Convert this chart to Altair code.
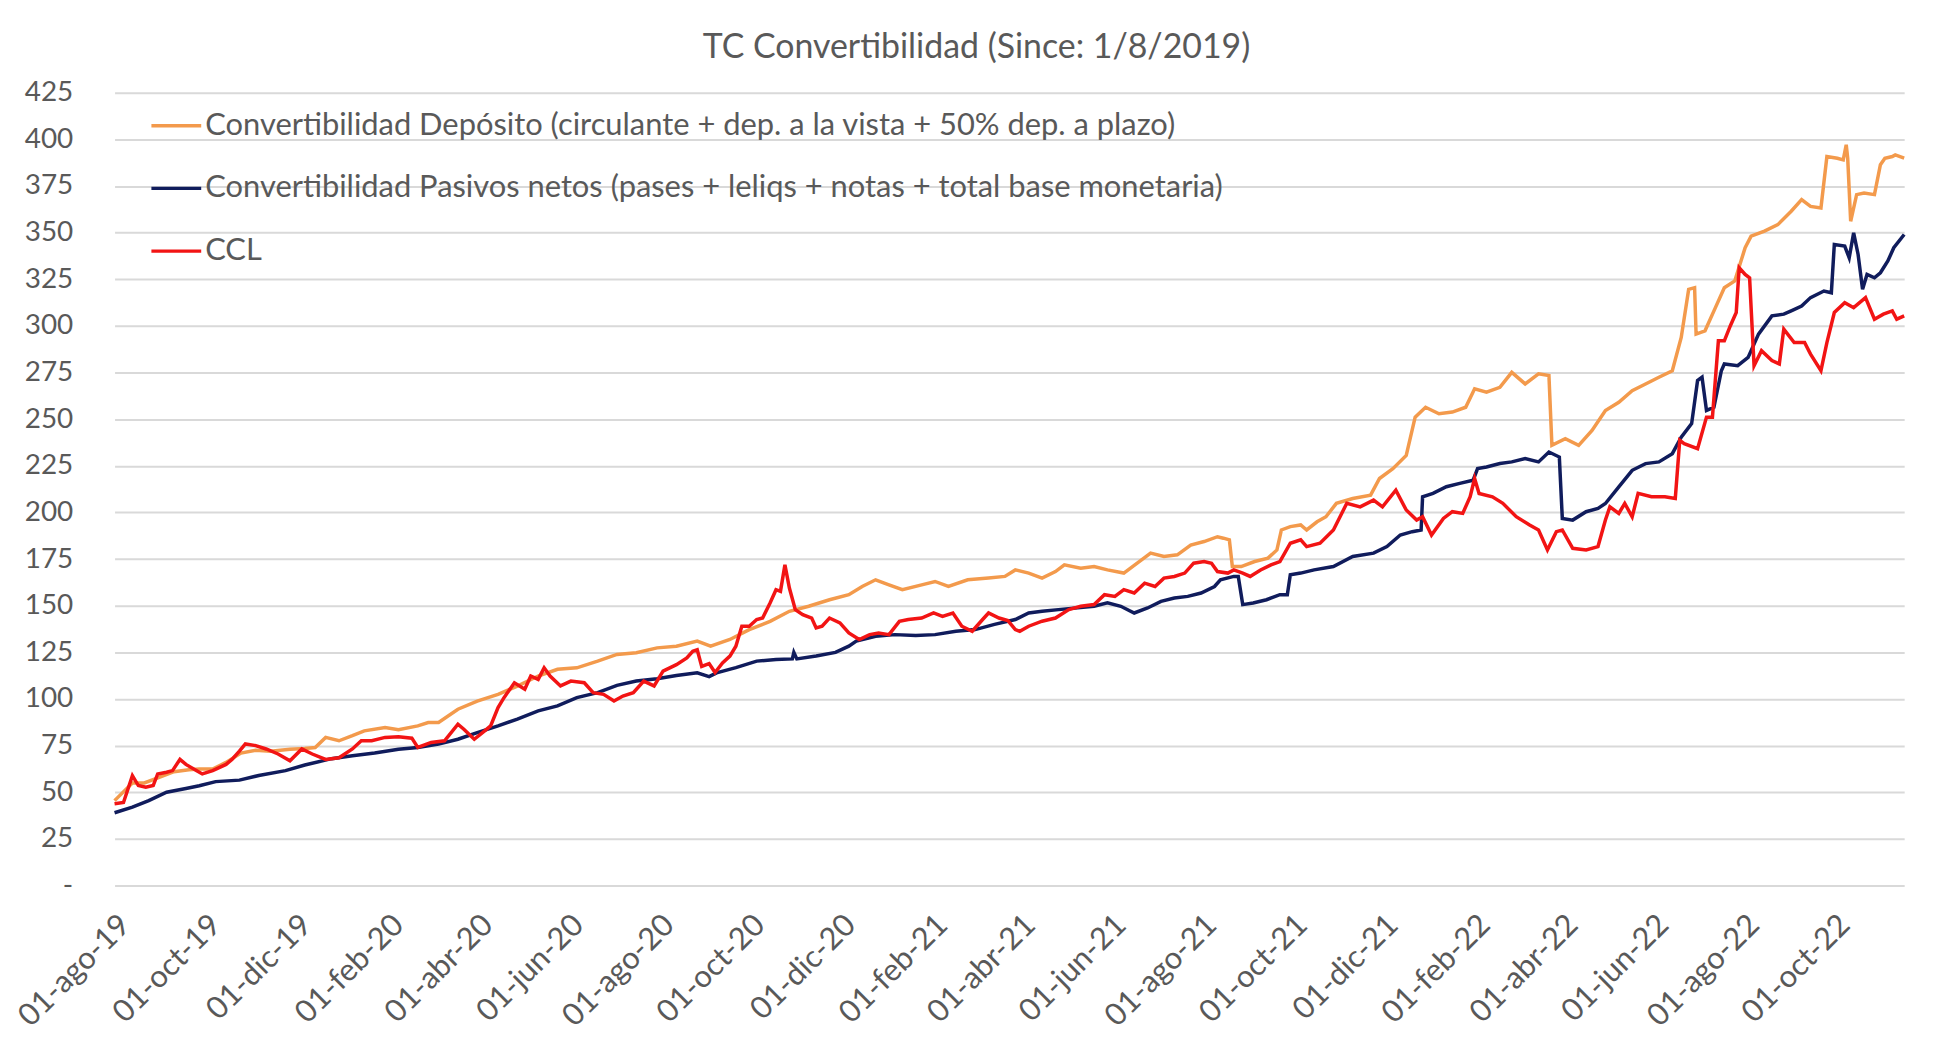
import altair as alt
import pandas as pd

# Series names (legend order)
names = [
    "Convertibilidad Depósito (circulante + dep. a la vista + 50% dep. a plazo)",
    "Convertibilidad Pasivos netos (pases + leliqs + notas + total base monetaria)",
    "CCL",
]
colors = ["#F39A4C", "#101C5C", "#F21414"]

# Days since 2019-08-01
orange_days = [0, 12, 20, 30, 40, 50, 57, 66, 75, 85, 95, 105, 118, 128, 135, 142, 151, 160, 168, 182,
               191, 204, 211, 218, 231, 244, 258, 271, 285, 298, 311, 325, 338, 351, 365, 378, 392, 401,
               414, 427, 441, 454, 467, 481, 494, 503, 512, 521, 530, 543, 552, 561, 574, 588, 599, 606,
               615, 624, 633, 639, 650, 659, 668, 679, 688, 697, 706, 715, 724, 733, 742, 746, 750, 752,
               758, 767, 776, 782, 785, 791, 798, 802, 809, 815, 822, 833, 845, 851, 860, 869, 875, 882,
               891, 900, 909, 915, 923, 932, 940, 949, 958, 965, 967, 976, 985, 994, 1003, 1012, 1021,
               1030, 1039, 1048, 1054, 1059, 1063, 1064, 1070, 1077, 1083, 1090, 1097, 1101, 1110, 1119,
               1128, 1135, 1141, 1148, 1152, 1159, 1163, 1165, 1166, 1168, 1172, 1177, 1184, 1188, 1191,
               1196, 1198, 1204]
orange_vals = [45.5, 55, 55, 58, 61, 62, 62.4, 62.4, 66, 71, 72.5, 72, 73, 73.5, 74, 79.4, 77.6, 80.3, 82.9, 84.7,
               83.5, 85.6, 87.4, 87.4, 94.5, 98.9, 102.5, 106.9, 112.3, 115.9, 116.7, 120.3, 123.9, 124.8, 127.4, 128.3, 131, 128.3,
               131.9, 137.2, 141.6, 147, 149.7, 153.2, 155.9, 160.3, 163.9, 161.2, 158.6, 161.2, 163, 160.3, 163.9, 164.8, 165.7, 169.2,
               167.5, 164.8, 168.3, 171.9, 170.1, 171, 169.2, 167.5, 172.8, 178.2, 176.4, 177.3, 182.5, 184.4, 187, 186.2, 185.3, 171,
               171, 173.7, 175.5, 179.9, 190.6, 192.4, 193.3, 190.6, 195, 197.7, 204.9, 207.5, 209.3, 218.2, 223.5, 230.6, 251.1, 256.4,
               252.9, 253.8, 256.4, 266.3, 264.5, 267.1, 275.1, 268.9, 274.3, 273.4, 236, 239.6, 236, 244, 254.7, 259.1, 265.3,
               268.9, 272.5, 276, 293.8, 319.6, 320.5, 295.6, 297.4, 309.8, 320.5, 324.1, 341.9, 348.1, 350.8, 354.3,
               361.5, 367.7, 364.1, 363.2, 390.8, 389.9, 389, 397.1, 389.9, 356.1, 370.4, 371.2, 370.4, 386.4, 389.9,
               390.8, 391.7, 390]

blue_days = [0, 12, 23, 35, 48, 57, 68, 84, 97, 115, 128, 146, 160, 175, 191, 204, 218, 231, 244, 258, 271, 285,
             298, 311, 325, 338, 351, 365, 378, 392, 400, 405, 418, 432, 445, 456, 457, 459, 472, 485, 494, 499,
             512, 525, 539, 552, 566, 579, 592, 606, 615, 624, 635, 659, 668, 677, 686, 695, 704, 713, 722, 731,
             740, 744, 753, 756, 759, 766, 775, 784, 789, 791, 798, 807, 820, 833, 847, 856, 865, 873, 879, 880,
             887, 896, 905, 914, 917, 923, 932, 940, 949, 958, 965, 972, 974, 981, 990, 998, 1003, 1012, 1021,
             1030, 1039, 1048, 1054, 1061, 1065, 1068, 1071, 1076, 1081, 1083, 1092, 1099, 1106, 1115, 1123,
             1128, 1135, 1141, 1150, 1155, 1157, 1164, 1167, 1170, 1173, 1176, 1179, 1184, 1188, 1193, 1197, 1204]
blue_vals = [39, 42, 45.5, 50, 52, 53.5, 55.7, 56.5, 59, 61.6, 64.6, 68, 69.6, 71, 73, 74, 75.8, 78.4, 82, 85.6, 89.2, 93.6,
             96.3, 100.7, 103.4, 107.3, 109.6, 110.8, 112.6, 114, 112, 114, 116.8, 120.3, 121.2, 121.5, 125, 121.5, 123, 125, 128.3, 131,
             133.6, 134.5, 134, 134.5, 136.3, 137.2, 140, 142.6, 146.1, 147, 147.9, 149.7, 151.5, 149.7, 146.1, 148.8, 152.3, 154.1, 155, 156.8,
             160.3, 163.9, 165.7, 165.7, 150.6, 151.5, 153.2, 155.9, 155.9, 166.6, 167.5, 169.2, 171, 176.4, 178.2, 181.7, 187.9, 189.7, 190.6, 208.4,
             210.2, 213.8, 215.6, 217.3, 223.5, 224.4, 226.2, 227.1, 228.9, 227.1, 232.4, 229.7, 196.8, 195.9, 200.4, 202.2, 204.8, 213.7, 222.6,
             226.2, 227.1, 231.5, 240.4, 247.6, 270.7, 272.5, 254.7, 256.4, 276, 279.6, 278.7, 283.1, 295.6, 305.4, 306.3,
             308.1, 310.7, 315.2, 318.7, 317.8, 343.7, 342.8, 336.5, 349.9, 338.3, 319.6, 327.6, 325.8, 328.5, 334.8, 341.9, 349]

red_days = [0, 6, 12, 16, 21, 26, 29, 35, 39, 44, 48, 55, 59, 66, 75, 79, 84, 88, 95, 102, 110, 118, 126, 133, 142,
            151, 160, 166, 173, 182, 191, 200, 204, 213, 222, 231, 235, 242, 249, 253, 258, 262, 269, 276, 280, 285,
            289, 293, 300, 307, 316, 322, 329, 336, 342, 349, 356, 363, 369, 378, 385, 389, 392, 395, 400, 404, 409,
            414, 418, 422, 427, 432, 436, 441, 445, 448, 451, 454, 458, 463, 469, 472, 476, 481, 488, 494, 501, 508,
            514, 521, 528, 534, 543, 551, 557, 564, 570, 577, 584, 588, 595, 601, 606, 609, 615, 624, 633, 642, 650,
            659, 666, 673, 679, 686, 693, 700, 706, 713, 720, 726, 733, 738, 742, 749, 753, 759, 764, 771, 778, 784,
            791, 798, 802, 811, 820, 829, 838, 847, 853, 862, 869, 876, 880, 886, 894, 900, 907, 912, 915, 918, 927,
            934, 943, 952, 958, 964, 970, 974, 981, 990, 998, 1003, 1006, 1012, 1016, 1021, 1025, 1034, 1043, 1050,
            1053, 1056, 1065, 1071, 1075, 1079, 1083, 1087, 1091, 1093, 1097, 1100, 1103, 1108, 1115, 1120, 1123,
            1130, 1137, 1141, 1148, 1152, 1157, 1164, 1170, 1178, 1184, 1190, 1196, 1199, 1204]
red_vals = [43.8, 44.5, 58.9, 53.6, 52.7, 53.6, 59.8, 60.7, 61.6, 67.6, 64.9, 61.6, 59.8, 61.6, 64.9, 67.6, 72, 75.9, 75, 73.2, 70.5, 66.9, 73.2, 70.5, 67.6,
            68.5, 73.2, 77.6, 77.6, 79.4, 79.8, 79, 74, 76.7, 77.6, 86.5, 83.8, 78.4, 82.9, 85.6, 95.4, 100.7, 108.7, 105.2, 112.3, 110.5,
            116.7, 112.3, 107, 109.6, 108.7, 103.4, 102.5, 98.9, 101.6, 103.4, 109.6, 107, 114.9, 118.4, 122, 125.6, 126.4, 117.5, 119, 114.2, 119.3,
            123, 128.3, 139, 139, 142.6, 143.4, 151.5, 158.6, 157.7, 171.9, 159.5, 147.9, 145.2, 143.4, 138.1, 139, 143.4, 140.8, 135.4, 131.9, 134.5,
            135.4, 134.5, 141.6, 142.6, 143.4, 146.1, 144.3, 146.1, 139, 136.3, 142.6, 146.1, 143.4, 142, 137.2, 136.3, 139, 141.7, 143.4, 147.9, 149.7,
            150.6, 155.9, 155, 158.6, 156.8, 162.1, 160.3, 164.8, 165.7, 167.5, 172.8, 173.7, 172.8, 168.3, 167.5, 169.2, 167.5, 165.7, 169.2, 171.9, 173.7,
            183.5, 185.3, 181.7, 183.5, 190.6, 204.9, 203, 206.6, 203, 211.9, 201.3, 195.9, 197.7, 187.9, 196.8, 200.4, 199.5, 208.4, 218.2, 210.2, 208.4,
            204.9, 197.7, 193.3, 190.6, 179.9, 189.7, 190.6, 180.8, 179.9, 181.7, 196, 203, 199.5, 204.8, 197.7, 210.2, 208.4, 208.4, 207.5,
            238.7, 236.9, 234.2, 251.1, 251.1, 292, 292, 300, 307.2, 331.2, 327.6, 325.8, 278.7, 286.7, 281.4, 279.6, 298.3,
            291.1, 291.1, 284.9, 276, 291.1, 307.2, 312.5, 309.8, 315.2, 303.6, 306.3, 308.1, 303.6, 305.4]

month_names = ["ene", "feb", "mar", "abr", "may", "jun", "jul", "ago", "sep", "oct", "nov", "dic"]
tick_dates = ["2019-08-01", "2019-10-01", "2019-12-01", "2020-02-01", "2020-04-01", "2020-06-01",
              "2020-08-01", "2020-10-01", "2020-12-01", "2021-02-01", "2021-04-01", "2021-06-01",
              "2021-08-01", "2021-10-01", "2021-12-01", "2022-02-01", "2022-04-01", "2022-06-01",
              "2022-08-01", "2022-10-01"]
y_ticks = list(range(0, 426, 25))

base = pd.Timestamp("2019-08-01")


def frame(name, days, vals):
    d = (base + pd.to_timedelta(days, unit="D")).strftime("%Y-%m-%d")
    return pd.DataFrame({"fecha": d, "valor": vals, "serie": name})


df = pd.concat([frame(names[0], orange_days, orange_vals),
                frame(names[1], blue_days, blue_vals),
                frame(names[2], red_days, red_vals)], ignore_index=True)

tick_ms = [int(pd.Timestamp(t).timestamp() * 1000) for t in tick_dates]
dom = [int(base.timestamp() * 1000),
       int((base + pd.Timedelta(days=max(orange_days))).timestamp() * 1000)]

months_js = "[" + ",".join("'%s'" % m for m in month_names) + "]"
x_label_expr = ("utcFormat(datum.value, '%d') + '-' + " + months_js +
                "[utcmonth(datum.value)] + '-' + utcFormat(datum.value, '%y')")

FONT = "Lato"
GREY = "#595959"

chart = alt.Chart(df).mark_line(strokeWidth=3.5).encode(
    x=alt.X("fecha:T",
            scale=alt.Scale(type="utc", domain=dom),
            axis=alt.Axis(values=tick_ms, labelExpr=x_label_expr, labelAngle=-45,
                          labelAlign="right", labelBaseline="top", labelPadding=24,
                          grid=False, domain=False, ticks=False, title=None,
                          labelFont=FONT, labelFontSize=31, labelColor=GREY,
                          labelOverlap=False)),
    y=alt.Y("valor:Q",
            scale=alt.Scale(domain=[0, 425], nice=False),
            axis=alt.Axis(values=y_ticks,
                          labelExpr="datum.value == 0 ? '-' : datum.label",
                          grid=True, gridColor="#D9D9D9", gridWidth=2,
                          domain=False, ticks=False, title=None, labelPadding=42,
                          labelFont=FONT, labelFontSize=28, labelColor=GREY)),
    color=alt.Color("serie:N",
                    scale=alt.Scale(domain=names, range=colors),
                    sort=names,
                    legend=alt.Legend(orient="none", legendX=35, legendY=6, title=None,
                                      symbolType="stroke", symbolSize=2500,
                                      symbolStrokeWidth=3.5, labelOffset=2,
                                      rowPadding=21, labelFont=FONT, labelFontSize=31,
                                      labelColor=GREY, labelLimit=1500, padding=0)),
    order=alt.Order("ord:Q"),
).transform_calculate(
    ord="datum.serie == 'CCL' ? 3 : (indexof(datum.serie, 'Pasivos') >= 0 ? 2 : 1)"
).properties(
    width=1797,
    height=796,
    title=alt.TitleParams("TC Convertibilidad (Since: 1/8/2019)", font=FONT, fontSize=34,
                          fontWeight="normal", color=GREY, offset=14, dx=-33),
    autosize=alt.AutoSizeParams(type="none"),
    padding={"left": 107, "top": 83, "right": 45, "bottom": 150},
    background="white",
).configure_view(stroke=None)

chart.save("out.html", embed_options={"renderer": "svg", "actions": False})
